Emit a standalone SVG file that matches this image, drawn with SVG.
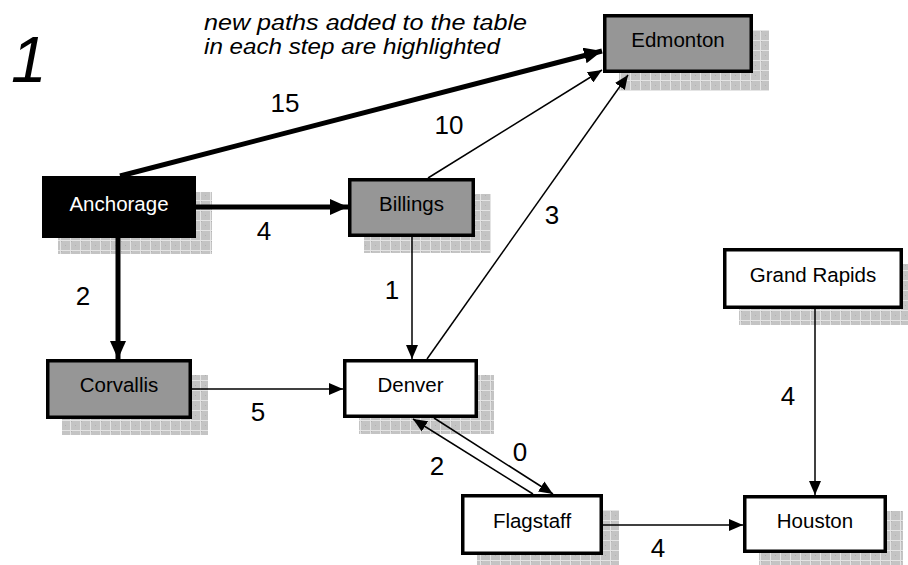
<svg xmlns="http://www.w3.org/2000/svg" width="908" height="565" viewBox="0 0 908 565">
  <defs>
    <!-- stippled grid used for the drop shadows -->
    <pattern id="grid" patternUnits="userSpaceOnUse" width="10" height="10">
      <rect width="10" height="10" fill="#c4c4c4"/>
      <rect x="1" y="1" width="1" height="1" fill="#b0b0b0"/>
      <rect x="5" y="5" width="1" height="1" fill="#b0b0b0"/>
      <path d="M0,0.5 H10 M0.5,0 V10" stroke="#e4e4e4" stroke-width="1"/>
    </pattern>
    <marker id="ah" markerUnits="userSpaceOnUse" markerWidth="14" markerHeight="12" refX="14" refY="6" orient="auto">
      <path d="M0,0 L14,6 L0,12 Z" fill="#000"/>
    </marker>
    <marker id="ahb" markerUnits="userSpaceOnUse" markerWidth="18" markerHeight="16" refX="18" refY="8" orient="auto">
      <path d="M0,0 L18,8 L0,16 Z" fill="#000"/>
    </marker>
  </defs>
  <style>
    .shadow { fill: url(#grid); }
    .box { stroke: #000; stroke-width: 3.5; }
    .plain { fill: #fff; }
    .done { fill: #969696; }
    .root { fill: #000; }
    .name { font-family: "Liberation Sans", Arial, sans-serif; font-size: 20.5px; text-anchor: middle; fill: #000; }
    .root-name { fill: #fff; }
    .edge { fill: none; stroke: #000; stroke-width: 1.5; marker-end: url(#ah); }
    .bold { stroke-width: 5; marker-end: url(#ahb); }
    .cost { font-family: "Liberation Sans", Arial, sans-serif; font-size: 26px; text-anchor: middle; fill: #000; }
    .note { font-family: "Liberation Sans", Arial, sans-serif; font-size: 22px; font-style: italic; fill: #000; }
  </style>

  <rect width="908" height="565" fill="#fff"/>

  <!-- step number and caption -->
  <text x="11" y="82" font-family="Liberation Sans, Arial, sans-serif" font-size="64" font-style="italic">1</text>
  <text class="note" x="204" y="30" textLength="323" lengthAdjust="spacingAndGlyphs">new paths added to the table</text>
  <text class="note" x="204" y="54" textLength="296" lengthAdjust="spacingAndGlyphs">in each step are highlighted</text>

  <!-- shadows sit behind everything -->
  <g id="shadows">
    <rect class="shadow" x="619" y="30" width="150" height="61"/>
    <rect class="shadow" x="58" y="192" width="154" height="62"/>
    <rect class="shadow" x="364" y="194" width="127" height="59"/>
    <rect class="shadow" x="62" y="375" width="146" height="60"/>
    <rect class="shadow" x="359" y="375" width="135" height="59"/>
    <rect class="shadow" x="477" y="510" width="142" height="61"/>
    <rect class="shadow" x="739" y="264" width="180" height="61"/>
    <rect class="shadow" x="759" y="511" width="144" height="58"/>
  </g>

  <g id="connectors">
    <line class="edge bold" x1="120" y1="176" x2="602" y2="51"/>
    <line class="edge bold" x1="196" y1="207" x2="348" y2="207"/>
    <line class="edge bold" x1="118" y1="238" x2="118" y2="359"/>
    <line class="edge" x1="428" y1="178" x2="602" y2="70"/>
    <line class="edge" x1="412" y1="237" x2="412" y2="359"/>
    <line class="edge" x1="192" y1="389" x2="343" y2="389"/>
    <line class="edge" x1="427" y1="359" x2="628" y2="75"/>
    <line class="edge" x1="434" y1="418" x2="553" y2="494"/>
    <line class="edge" x1="533" y1="494" x2="413" y2="419"/>
    <line class="edge" x1="603" y1="525" x2="743" y2="525"/>
    <line class="edge" x1="815" y1="309" x2="815" y2="495"/>
  </g>

  <g id="costs">
    <text class="cost" x="285" y="112">15</text>
    <text class="cost" x="449" y="134">10</text>
    <text class="cost" x="264" y="240">4</text>
    <text class="cost" x="552" y="224">3</text>
    <text class="cost" x="83" y="305">2</text>
    <text class="cost" x="392" y="299">1</text>
    <text class="cost" x="258" y="421">5</text>
    <text class="cost" x="788" y="405">4</text>
    <text class="cost" x="520" y="461">0</text>
    <text class="cost" x="437" y="475">2</text>
    <text class="cost" x="658" y="557">4</text>
  </g>

  <g id="edmonton">
    <rect class="box done" x="604.75" y="15.75" width="146.5" height="55.5"/>
    <text class="name" x="678" y="47">Edmonton</text>
  </g>
  <g id="anchorage">
    <rect class="box root" x="43.75" y="177.75" width="150.5" height="58.5"/>
    <text class="name root-name" x="119" y="211">Anchorage</text>
  </g>
  <g id="billings">
    <rect class="box done" x="349.75" y="179.75" width="123.5" height="55.5"/>
    <text class="name" x="411.5" y="211">Billings</text>
  </g>
  <g id="corvallis">
    <rect class="box done" x="47.75" y="360.75" width="142.5" height="56.5"/>
    <text class="name" x="119" y="392">Corvallis</text>
  </g>
  <g id="denver">
    <rect class="box plain" x="344.75" y="360.75" width="131.5" height="55.5"/>
    <text class="name" x="410.5" y="392">Denver</text>
  </g>
  <g id="flagstaff">
    <rect class="box plain" x="462.75" y="495.75" width="138.5" height="57.5"/>
    <text class="name" x="532" y="528">Flagstaff</text>
  </g>
  <g id="grand-rapids">
    <rect class="box plain" x="724.75" y="249.75" width="176.5" height="57.5"/>
    <text class="name" x="813" y="282">Grand Rapids</text>
  </g>
  <g id="houston">
    <rect class="box plain" x="744.75" y="496.75" width="140.5" height="54.5"/>
    <text class="name" x="815" y="528">Houston</text>
  </g>
</svg>
